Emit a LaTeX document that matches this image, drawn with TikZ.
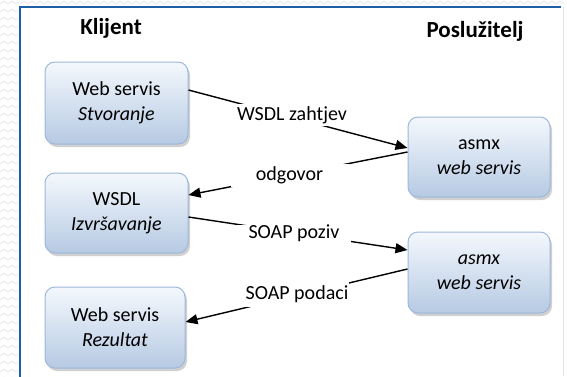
\documentclass[tikz,border=0pt]{standalone}
\usepackage{fontspec}
\setmainfont{Carlito}
\usetikzlibrary{arrows.meta,shadows,calc}
\definecolor{frameblue}{HTML}{1F5FA8}
\definecolor{boxedge}{HTML}{9DB8DA}
\definecolor{boxtop}{HTML}{F4F8FD}
\definecolor{boxbot}{HTML}{B6CAE3}
\tikzset{
  bx/.style={rounded corners=10pt, draw=boxedge, line width=1pt,
    top color=boxtop, bottom color=boxbot, align=center,
    font=\fontsize{20}{25}\selectfont, inner sep=2pt,
    drop shadow={shadow xshift=2pt, shadow yshift=-3pt, opacity=0.3, fill=black!60}},
  conn/.style={line width=1.4pt, black},
  arr/.style={conn, -{Triangle[length=12pt,width=10pt]}},
  lbl/.style={fill=white, inner sep=0pt, font=\fontsize{20}{24}\selectfont},
  ttl/.style={font=\fontsize{23}{28}\selectfont\bfseries},
  bgline/.style={gray!14, line width=1pt}
}
\begin{document}
\begin{tikzpicture}[x=1pt,y=-1pt]
\useasboundingbox (0,0) rectangle (567,376);
\fill[white] (0,0) rectangle (567,376);
% background pattern outside frame
\foreach \yy in {4,12,...,380} {
  \draw[bgline] (0,\yy) -- ++(4,-3) -- ++(4,3) -- ++(4,-3) -- ++(4,3) -- ++(3,-2);
}
\foreach \xx in {20,36,...,560} {
  \draw[bgline] (\xx,4) -- ++(4,-3) -- ++(4,3) -- ++(4,-3) -- ++(4,3);
}
\draw[gray!22, line width=0.8pt] (563,7) -- (563,376);
\draw[frameblue, line width=2.5pt] (20,377) -- (20,7) -- (561,7);

% titles
\node[ttl] (tk) at (111,28) {Klijent};
\node[ttl] (tp) at (475,31) {Poslužitelj};

% boxes
\node[bx, minimum width=143pt, minimum height=82pt] (b1) at (116.5,103) {Web servis\\\textit{Stvoranje}};
\node[bx, minimum width=143pt, minimum height=80pt] (b2) at (116.5,213) {WSDL\\\textit{Izvršavanje}};
\node[bx, minimum width=140pt, minimum height=81pt] (b3) at (115,327.5) {Web servis\\\textit{Rezultat}};
\node[bx, minimum width=142pt, minimum height=80pt] (s1) at (479,157) {asmx\\\textit{web servis}};
\node[bx, minimum width=142pt, minimum height=81pt] (s2) at (479,272.5) {\textit{asmx}\\\textit{web servis}};

% connectors
\draw[arr] ([yshift=13pt]b1.east) -- ([yshift=9pt]s1.west);
\draw[arr] ([yshift=5pt]s1.west) -- ([yshift=18pt]b2.east);
\draw[arr] ([yshift=-4pt]b2.east) -- ([yshift=22.5pt]s2.west);
\draw[arr] ([yshift=3.5pt]s2.west) -- ([yshift=5.5pt]b3.east);

% labels
\node[lbl, minimum width=112pt, minimum height=21.5pt] (l1) at (292,115) {WSDL zahtjev};
\node[lbl, minimum width=118pt, minimum height=23pt] (l2) at (289.5,175.5) {odgovor};
\node[lbl, minimum width=114pt, minimum height=18pt] (l3) at (294,233.5) {SOAP poziv};
\node[lbl, minimum width=104pt, minimum height=25pt] (l4) at (297,294.5) {SOAP podaci};
\end{tikzpicture}
\end{document}
